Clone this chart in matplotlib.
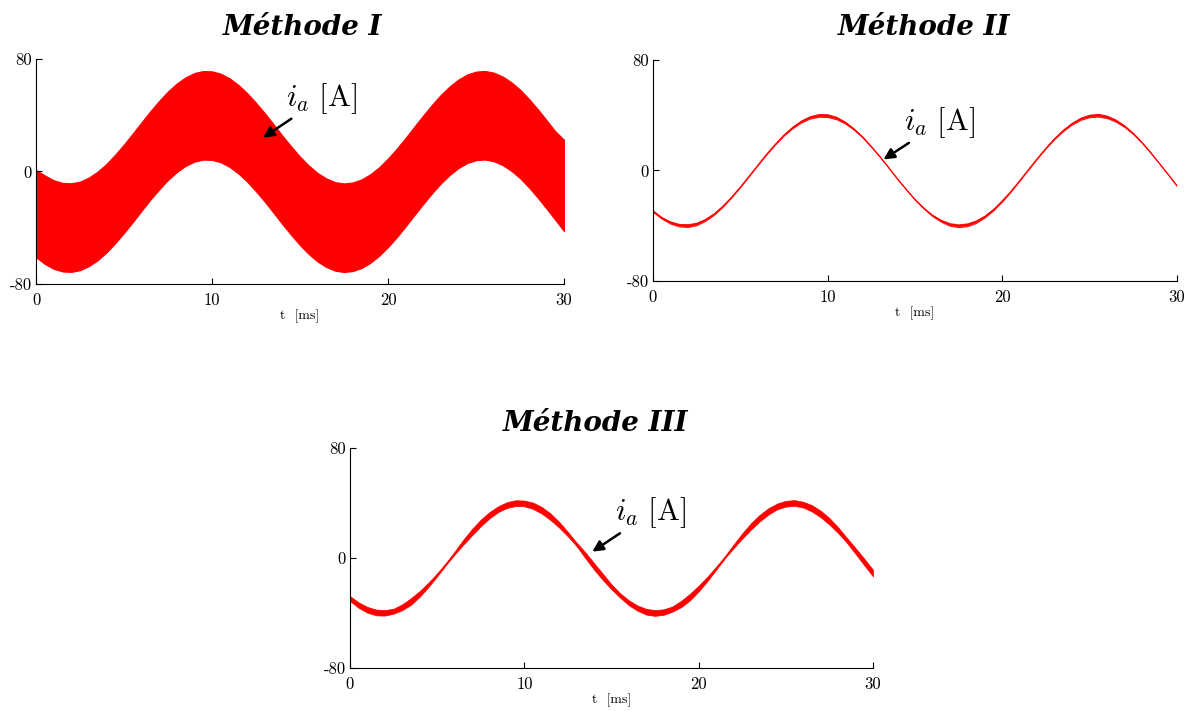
import numpy as np
import matplotlib
matplotlib.use("Agg")
import matplotlib.pyplot as plt

plt.rcParams.update({
    "mathtext.fontset": "cm",
    "axes.unicode_minus": False,
    "font.family": "serif",
    "font.serif": ["cmr10", "DejaVu Serif"],
    "axes.formatter.use_mathtext": True,
})

# time axis [ms], one sample every 0.5 ms
t_ms = np.arange(0, 30.01, 0.5)

# mean phase current i_a [A] (same wave in the three methods)
i_center = [
    -29.5, -34.3, -37.7, -39.6, -39.9, -38.7, -35.8, -31.6, -26.1, -19.5,
    -12.2, -4.4, 3.6, 11.5, 18.8, 25.5, 31.1, 35.5, 38.5, 39.9,
    39.7, 38.0, 34.7, 30.0, 24.2, 17.3, 9.9, 2.0, -6.1, -13.7,
    -21.0, -27.3, -32.6, -36.5, -39.1, -40.0, -39.3, -37.1, -33.4, -28.4,
    -22.2, -15.2, -7.5, 0.5, 8.4, 16.0, 23.0, 29.0, 33.9, 37.5,
    39.5, 40.0, 38.8, 36.1, 32.0, 26.7, 20.2, 12.9, 5.1, -2.9,
    -11.0,
]

# Method I: upper / lower envelope of the switching ripple
i1_upper = [
    1.0, -2.8, -6.2, -8.1, -8.4, -7.2, -4.3, -0.1, 5.4, 12.0,
    19.3, 27.1, 35.1, 43.0, 50.3, 57.0, 62.6, 67.0, 70.0, 71.4,
    71.2, 69.5, 66.2, 61.5, 55.7, 48.8, 41.4, 33.5, 25.4, 17.8,
    10.5, 4.2, -1.1, -5.0, -7.6, -8.5, -7.8, -5.6, -1.9, 3.1,
    9.3, 16.3, 24.0, 32.0, 39.9, 47.5, 54.5, 60.5, 65.4, 69.0,
    71.0, 71.5, 70.3, 67.6, 63.5, 58.2, 51.7, 44.4, 36.6, 28.6,
    22.5,
]
i1_lower = [
    -61.0, -65.8, -69.2, -71.1, -71.4, -70.2, -67.3, -63.1, -57.6, -51.0,
    -43.7, -35.9, -27.9, -20.0, -12.7, -6.0, -0.4, 4.0, 7.0, 8.4,
    8.2, 6.5, 3.2, -1.5, -7.3, -14.2, -21.6, -29.5, -37.6, -45.2,
    -52.5, -58.8, -64.1, -68.0, -70.6, -71.5, -70.8, -68.6, -64.9, -59.9,
    -53.7, -46.7, -39.0, -31.0, -23.1, -15.5, -8.5, -2.5, 2.4, 6.0,
    8.0, 8.5, 7.3, 4.6, 0.5, -4.8, -11.3, -18.6, -26.4, -34.4,
    -42.5,
]

# Method II: small ripple half-width [A]
i2_ripple = [
    1.0, 1.0, 1.2, 1.3, 1.4, 1.3, 1.1, 0.9, 0.7, 0.5,
    0.4, 0.3, 0.3, 0.4, 0.5, 0.7, 0.9, 1.1, 1.3, 1.4,
    1.4, 1.3, 1.1, 0.9, 0.7, 0.5, 0.4, 0.3, 0.3, 0.4,
    0.5, 0.7, 0.9, 1.1, 1.3, 1.4, 1.4, 1.3, 1.1, 0.9,
    0.7, 0.5, 0.4, 0.3, 0.3, 0.4, 0.6, 0.8, 1.0, 1.2,
    1.3, 1.4, 1.3, 1.2, 1.0, 0.8, 0.6, 0.4, 0.3, 0.3,
    0.4,
]

# Method III: ripple half-width [A]
i3_ripple = [
    1.8, 2.0, 2.1, 2.1, 2.0, 1.8, 2.1, 2.4, 2.1, 1.6,
    1.1, 0.8, 1.1, 1.8, 2.3, 2.4, 2.3, 2.1, 2.1, 2.1,
    2.1, 2.3, 2.4, 2.4, 2.1, 1.6, 1.3, 2.1, 2.4, 2.3,
    1.8, 1.6, 1.8, 1.9, 2.1, 2.1, 2.0, 1.9, 2.3, 2.4,
    2.1, 1.6, 1.1, 0.8, 1.3, 1.9, 2.3, 2.4, 2.3, 2.1,
    2.1, 2.1, 2.1, 2.3, 2.4, 2.4, 2.1, 1.8, 2.1, 2.4,
    2.4,
]

titles = ["Méthode I", "Méthode II", "Méthode III"]
x_ticks = [0, 10, 20, 30]
y_ticks = [-80, 0, 80]
red = "#ff0000"

fig = plt.figure(figsize=(11.9, 7.11), dpi=100)
ax1 = fig.add_axes([0.0303, 0.6006, 0.4437, 0.3165])
ax2 = fig.add_axes([0.5487, 0.6048, 0.4403, 0.3108])
ax3 = fig.add_axes([0.2941, 0.0605, 0.4395, 0.3094])

center = np.array(i_center)

ax1.fill_between(t_ms, i1_lower, i1_upper, color=red, lw=0.8, edgecolor=red)
ax2.fill_between(t_ms, center - np.array(i2_ripple), center + np.array(i2_ripple),
                 color=red, lw=0, alpha=0.9)
ax2.plot(t_ms, center, color=red, lw=1.0)
ax3.fill_between(t_ms, center - np.array(i3_ripple), center + np.array(i3_ripple),
                 color=red, lw=0.5, edgecolor=red)

for ax in (ax1, ax2, ax3):
    ax.set_xlim(0, 30)
    ax.set_ylim(-80, 80)
    for s in ("top", "right"):
        ax.spines[s].set_visible(False)
    ax.set_xticks(x_ticks)
    ax.set_yticks(y_ticks)
    ax.set_xticklabels([str(v) for v in x_ticks])
    ax.set_yticklabels([str(v) for v in y_ticks])
    ax.tick_params(direction="in", length=4, labelsize=12, pad=3)
    ax.tick_params(axis="x", pad=6)
    ax.set_xlabel("t  [ms]", fontsize=10, labelpad=1)

# i_a annotations
notes = [
    (ax1, (12.9, 24.0), (14.2, 39.5)),
    (ax2, (13.2, 8.0), (14.4, 22.0)),
    (ax3, (13.9, 4.6), (15.2, 20.0)),
]
for ax, tip, txt in notes:
    ax.annotate(r"$i_a\ \mathrm{[A]}$", xy=tip, xytext=txt, fontsize=22,
                ha="left", va="bottom",
                arrowprops=dict(arrowstyle="-|>", color="black", lw=1.8,
                                mutation_scale=16, shrinkA=0, shrinkB=0))

title_pos = [(0.2546, 0.962), (0.7765, 0.962), (0.5008, 0.4037)]
for (x, y), s in zip(title_pos, titles):
    fig.text(x, y, s, ha="center", va="center", fontsize=20,
             family="DejaVu Serif", style="italic", weight="bold")

plt.savefig("out.png", dpi=100)
